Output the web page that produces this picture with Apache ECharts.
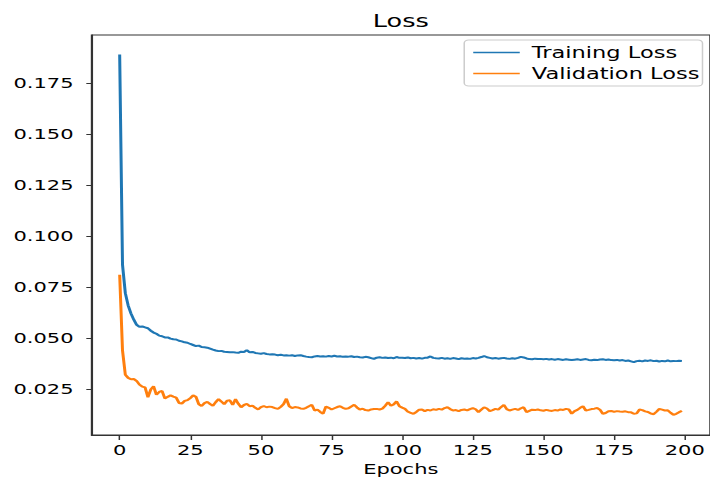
<!DOCTYPE html>
<html>
<head>
<meta charset="utf-8">
<title>Loss</title>
<script src="https://cdn.jsdelivr.net/npm/echarts@6/dist/echarts.min.js"></script>
<style>
  html, body { margin: 0; padding: 0; background: #fff; overflow: hidden; }
  /* the reference figure is stretched horizontally, so draw narrow and stretch */
  #chart { width: 473px; height: 478px; transform: scaleX(1.50106); transform-origin: 0 0; }
</style>
</head>
<body>
<div id="chart"></div>
<script>
// epochs 0..199
const epochs = []
for (let i = 0; i < 200; i++) epochs.push(i)

// 读图估计的训练损失
const trainLoss = [
  0.189, 0.086, 0.072, 0.066, 0.062, 0.059, 0.0565, 0.0555, 0.0557, 0.0552,
  0.0548, 0.0536, 0.0527, 0.0521, 0.0512, 0.0509, 0.0503, 0.0503, 0.0497, 0.0494,
  0.0493, 0.0487, 0.0484, 0.0479, 0.0477, 0.0471, 0.0466, 0.0461, 0.0463, 0.0456,
  0.0455, 0.0453, 0.0448, 0.0443, 0.0439, 0.0436, 0.0437, 0.0433, 0.0432, 0.0430,
  0.0431, 0.0429, 0.0428, 0.0433, 0.0432, 0.0441, 0.0430, 0.0432, 0.0427, 0.0425,
  0.0423, 0.0426, 0.0422, 0.0420, 0.0421, 0.0419, 0.0416, 0.0418, 0.0415, 0.0416,
  0.0414, 0.0416, 0.0412, 0.0415, 0.0416, 0.0412, 0.0409, 0.0407, 0.0406, 0.0410,
  0.0412, 0.0410, 0.0411, 0.0409, 0.0412, 0.0410, 0.0413, 0.0410, 0.0411, 0.0408,
  0.0410, 0.0409, 0.0411, 0.0407, 0.0409, 0.0406, 0.0405, 0.0408, 0.0406, 0.0402,
  0.0398, 0.0404, 0.0406, 0.0403, 0.0405, 0.0402, 0.0404, 0.0401, 0.0407, 0.0403,
  0.0404, 0.0402, 0.0405, 0.0401, 0.0403, 0.0400, 0.0402, 0.0399, 0.0403, 0.0404,
  0.0410, 0.0403, 0.0401, 0.0400, 0.0403, 0.0399, 0.0401, 0.0398, 0.0402, 0.0400,
  0.0397, 0.0401, 0.0399, 0.0400, 0.0398, 0.0402, 0.0400, 0.0403, 0.0407, 0.0412,
  0.0406, 0.0403, 0.0400, 0.0402, 0.0399, 0.0401, 0.0403, 0.0400, 0.0398, 0.0401,
  0.0399, 0.0403, 0.0408, 0.0405, 0.0400, 0.0397, 0.0396, 0.0399, 0.0397, 0.0398,
  0.0396, 0.0398, 0.0395, 0.0397, 0.0394, 0.0397, 0.0395, 0.0393, 0.0396, 0.0394,
  0.0392, 0.0394, 0.0396, 0.0393, 0.0395, 0.0397, 0.0393, 0.0391, 0.0394, 0.0392,
  0.0395, 0.0396, 0.0393, 0.0395, 0.0392, 0.0391, 0.0393, 0.0390, 0.0392, 0.0388,
  0.0390, 0.0386, 0.0382, 0.0387, 0.0389, 0.0386, 0.0390, 0.0388, 0.0391, 0.0387,
  0.0389, 0.0385, 0.0388, 0.0386, 0.0390, 0.0386, 0.0388, 0.0387, 0.0389, 0.0388
]

// 验证损失
const valLoss = [
  0.081, 0.044, 0.032, 0.0305, 0.0298, 0.0299, 0.029, 0.0272, 0.0262, 0.0258,
  0.021, 0.0248, 0.0264, 0.0222, 0.0236, 0.0241, 0.0204, 0.0212, 0.0219, 0.0213,
  0.0208, 0.0182, 0.0179, 0.0192, 0.0196, 0.0206, 0.0219, 0.0212, 0.0176, 0.0167,
  0.0181, 0.0187, 0.0177, 0.0168, 0.0186, 0.0201, 0.0189, 0.0176, 0.0193, 0.0195,
  0.0172, 0.0201, 0.0178, 0.0161, 0.0172, 0.0177, 0.0166, 0.0169, 0.0158, 0.015,
  0.0162, 0.0167, 0.0161, 0.0164, 0.0162, 0.0157, 0.0153, 0.0163, 0.0176, 0.0203,
  0.0166, 0.0157, 0.0162, 0.016, 0.0155, 0.0153, 0.0158, 0.0166, 0.0173, 0.0145,
  0.0149, 0.0138, 0.0129, 0.0165, 0.0158, 0.015, 0.0156, 0.0162, 0.0166, 0.0158,
  0.0153, 0.0156, 0.0165, 0.0173, 0.016, 0.015, 0.0154, 0.0147, 0.0145, 0.015,
  0.0152, 0.0153, 0.015, 0.0154, 0.0168, 0.0186, 0.0168, 0.0175, 0.019, 0.0166,
  0.0159, 0.0153, 0.0139, 0.0134, 0.0129, 0.0138, 0.0149, 0.015, 0.0142, 0.0148,
  0.0145, 0.0151, 0.0148, 0.0153, 0.0149, 0.0157, 0.0161, 0.0152, 0.0145, 0.0147,
  0.0142, 0.0148, 0.015, 0.0146, 0.0152, 0.0157, 0.0151, 0.0137, 0.0149, 0.0161,
  0.0155, 0.0142, 0.0147, 0.0153, 0.0149, 0.0162, 0.0173, 0.0152, 0.0145, 0.0149,
  0.0153, 0.0148, 0.0156, 0.0161, 0.0137, 0.0143, 0.0149, 0.0147, 0.015, 0.0146,
  0.0144, 0.0148, 0.0145, 0.0143, 0.0147, 0.0145, 0.015, 0.0148, 0.0153, 0.015,
  0.0129, 0.0142, 0.0148, 0.0158, 0.0166, 0.0145, 0.0148, 0.0152, 0.0154, 0.0157,
  0.0149, 0.0129, 0.0133, 0.0141, 0.0143, 0.0138, 0.0142, 0.014, 0.0139, 0.0141,
  0.0137, 0.0136, 0.0129, 0.0131, 0.015, 0.0147, 0.0141, 0.0138, 0.013, 0.0127,
  0.0139, 0.0153, 0.0149, 0.0145, 0.0146, 0.0134, 0.0124, 0.0129, 0.0137, 0.0143
]

// tick labels
const xTicks = [0, 25, 50, 75, 100, 125, 150, 175, 200]
const yTicks = [0.025, 0.05, 0.075, 0.1, 0.125, 0.15, 0.175]

const font = 'DejaVu Sans'
const myChart = echarts.init(document.getElementById('chart'), null, { renderer: 'svg' })

myChart.setOption({
  animation: false,
  title: {
    text: 'Loss',
    left: 262,
    top: 8,
    textAlign: 'center',
    textStyle: { fontFamily: font, fontSize: 17, fontWeight: 'normal', color: '#000' }
  },
  grid: {
    left: 61, right: 0, top: 35, bottom: 43,
    outerBoundsMode: 'none',
    show: true,
    borderColor: '#333',
    borderWidth: 1
  },
  legend: {
    right: 5,
    top: 40,
    orient: 'vertical',
    icon: 'rect',
    itemWidth: 31,
    itemHeight: 1.5,
    itemGap: 6,
    padding: [5, 2, 5, 6],
    borderColor: '#ccc',
    borderWidth: 1,
    borderRadius: 3,
    backgroundColor: 'rgba(255,255,255,0.8)',
    textStyle: { fontFamily: font, fontSize: 15, color: '#000', padding: [0, 0, 0, 3] },
    data: ['Training Loss', 'Validation Loss']
  },
  xAxis: {
    type: 'value',
    min: -9.95,
    max: 208.95,
    name: 'Epochs',
    nameLocation: 'middle',
    nameGap: 23,
    nameTextStyle: { fontFamily: font, fontSize: 14, color: '#000' },
    splitLine: { show: false },
    axisLine: { show: true, onZero: false, lineStyle: { color: '#333' } },
    axisTick: { show: true, length: 5, lineStyle: { color: '#333' }, customValues: xTicks },
    axisLabel: {
      fontFamily: font, fontSize: 14, color: '#000', margin: 8,
      customValues: xTicks
    }
  },
  yAxis: {
    type: 'value',
    min: 0.0025,
    max: 0.1985,
    splitLine: { show: false },
    axisLine: { show: true, onZero: false, lineStyle: { color: '#333' } },
    axisTick: { show: true, length: 3.5, lineStyle: { color: '#333' }, customValues: yTicks },
    axisLabel: {
      fontFamily: font, fontSize: 14, color: '#000', margin: 12,
      customValues: yTicks,
      formatter: v => v.toFixed(3)
    }
  },
  series: [
    {
      name: 'Training Loss',
      type: 'line',
      showSymbol: false,
      symbol: 'none',
      color: '#1f77b4',
      lineStyle: { width: 2 },
      data: epochs.map((e, i) => [e, trainLoss[i]])
    },
    {
      name: 'Validation Loss',
      type: 'line',
      showSymbol: false,
      symbol: 'none',
      color: '#ff7f0e',
      lineStyle: { width: 2 },
      data: epochs.map((e, i) => [e, valLoss[i]])
    }
  ]
})
</script>
</body>
</html>
